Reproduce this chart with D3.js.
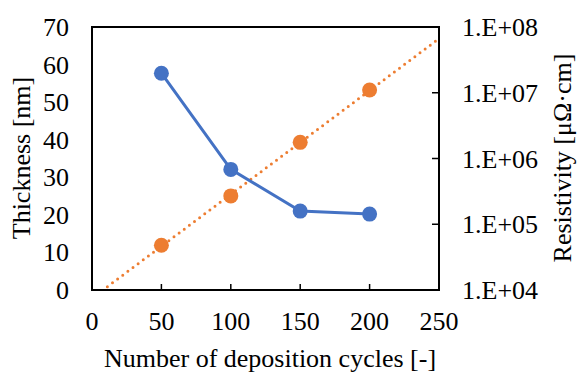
<!DOCTYPE html>
<html>
<head>
<meta charset="utf-8">
<script src="https://cdn.jsdelivr.net/npm/d3@7"></script>
<style>
  body { margin: 0; background: #fff; }
  svg text { font-family: "Liberation Serif", "Times New Roman", serif; fill: #000; }
</style>
</head>
<body>
<svg id="chart" width="577" height="372"></svg>
<script>
// data
var cycles = [50, 100, 150, 200];
var thickness = [57.7, 32.1, 21.0, 20.2];
var resistivity = [4.8e4, 2.7e5, 1.76e6, 1.1e7];
var xTicks = [0, 50, 100, 150, 200, 250];
var leftTicks = [0, 10, 20, 30, 40, 50, 60, 70];
var rightTicks = [1e4, 1e5, 1e6, 1e7, 1e8];

var svg = d3.select("#chart").attr("font-family", "Liberation Serif");
var m = { left: 92, right: 439, top: 27, bottom: 290 };
var fs = 26;

var x = d3.scaleLinear().domain([0, 250]).range([m.left, m.right]);
var yL = d3.scaleLinear().domain([0, 70]).range([m.bottom, m.top]);
var yR = d3.scaleLog().domain([1e4, 1e8]).range([m.bottom, m.top]);

svg.append("defs").append("clipPath").attr("id", "plot")
  .append("rect").attr("x", m.left).attr("y", m.top)
  .attr("width", m.right - m.left).attr("height", m.bottom - m.top);

// exponential trendline (least squares on log10 values)
var lx = d3.mean(cycles), ly = d3.mean(resistivity, function (d) { return Math.log10(d); });
var num = 0, den = 0;
cycles.forEach(function (c, i) {
  num += (c - lx) * (Math.log10(resistivity[i]) - ly);
  den += (c - lx) * (c - lx);
});
var slope = num / den, icpt = ly - slope * lx;
var trendX = [0, 250];

svg.append("path")
  .attr("clip-path", "url(#plot)")
  .attr("d", d3.line()
    .x(function (d) { return x(d); })
    .y(function (d) { return yR(Math.pow(10, icpt + slope * d)); })(trendX))
  .attr("fill", "none")
  .attr("stroke", "#ED7D31")
  .attr("stroke-width", 3)
  .attr("stroke-linecap", "round")
  .attr("stroke-dasharray", "0 6.4");

// frame
svg.append("rect")
  .attr("x", m.left).attr("y", m.top)
  .attr("width", m.right - m.left).attr("height", m.bottom - m.top)
  .attr("fill", "none").attr("stroke", "#000").attr("stroke-width", 2);

// x axis ticks (inside)
svg.selectAll(".xt").data(xTicks.slice(1, -1)).enter().append("line")
  .attr("x1", function (d) { return x(d); }).attr("x2", function (d) { return x(d); })
  .attr("y1", m.bottom).attr("y2", m.bottom - 6)
  .attr("stroke", "#000").attr("stroke-width", 1.5);

svg.selectAll(".xl").data(xTicks).enter().append("text")
  .attr("x", function (d) { return x(d); })
  .attr("y", 330)
  .attr("text-anchor", "middle")
  .attr("font-size", fs)
  .text(function (d) { return d; });

// left labels
svg.selectAll(".yl").data(leftTicks).enter().append("text")
  .attr("x", 69)
  .attr("y", function (d) { return yL(d) + 9; })
  .attr("text-anchor", "end")
  .attr("font-size", fs)
  .text(function (d) { return d; });

// right ticks (inside) and labels
svg.selectAll(".rt").data(rightTicks.slice(1, -1)).enter().append("line")
  .attr("x1", m.right).attr("x2", m.right - 7)
  .attr("y1", function (d) { return yR(d); }).attr("y2", function (d) { return yR(d); })
  .attr("stroke", "#000").attr("stroke-width", 1.5);

svg.selectAll(".rl").data(rightTicks).enter().append("text")
  .attr("x", 462)
  .attr("y", function (d) { return yR(d) + 9; })
  .attr("font-size", fs)
  .text(function (d) { return "1.E+0" + Math.round(Math.log10(d)); });

// blue thickness series
svg.append("path")
  .attr("d", d3.line()
    .x(function (d, i) { return x(cycles[i]); })
    .y(function (d) { return yL(d); })(thickness))
  .attr("fill", "none").attr("stroke", "#4472C4").attr("stroke-width", 3);

svg.selectAll(".bp").data(thickness).enter().append("circle")
  .attr("cx", function (d, i) { return x(cycles[i]); })
  .attr("cy", function (d) { return yL(d); })
  .attr("r", 7.5).attr("fill", "#4472C4");

// orange resistivity points
svg.selectAll(".op").data(resistivity).enter().append("circle")
  .attr("cx", function (d, i) { return x(cycles[i]); })
  .attr("cy", function (d) { return yR(d); })
  .attr("r", 7.5).attr("fill", "#ED7D31");

// titles
svg.append("text")
  .attr("x", 270).attr("y", 367)
  .attr("text-anchor", "middle").attr("font-size", fs)
  .text("Number of deposition cycles [-]");

svg.append("text")
  .attr("transform", "translate(30,158) rotate(-90)")
  .attr("text-anchor", "middle").attr("font-size", fs)
  .text("Thickness [nm]");

svg.append("text")
  .attr("transform", "translate(571,158) rotate(-90)")
  .attr("text-anchor", "middle").attr("font-size", fs)
  .text("Resistivity [μΩ·cm]");
</script>
</body>
</html>
